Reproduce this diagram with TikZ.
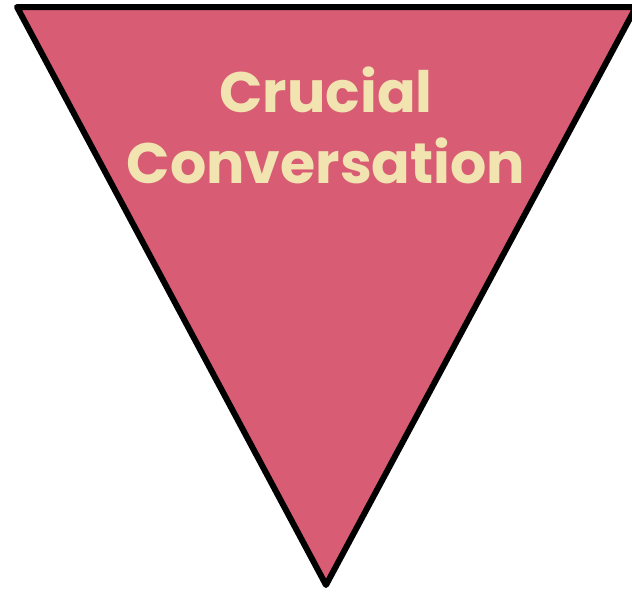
\documentclass[tikz,border=0pt]{standalone}
\usepackage{fontspec}
\setmainfont{Poppins}
\definecolor{tri}{RGB}{216,92,116}
\definecolor{txt}{RGB}{242,228,176}
\begin{document}
\begin{tikzpicture}[x=1pt,y=-1pt]
\useasboundingbox (0,0) rectangle (632,595);
\clip (0,0) rectangle (632,595);
\coordinate (tl) at (17,7);
\coordinate (tr) at (636,7);
\coordinate (bt) at (326,585);
\draw[line width=6pt,line join=round,fill=tri] (tl) -- (tr) -- (bt) -- cycle;
\tikzset{lbl/.style={text=txt,font=\fontsize{57}{71}\selectfont\bfseries,anchor=base}}
\node[lbl] (t1) at (326,112) {Crucial};
\node[lbl] (t2) at (326,183) {Conversation};
\end{tikzpicture}
\end{document}
